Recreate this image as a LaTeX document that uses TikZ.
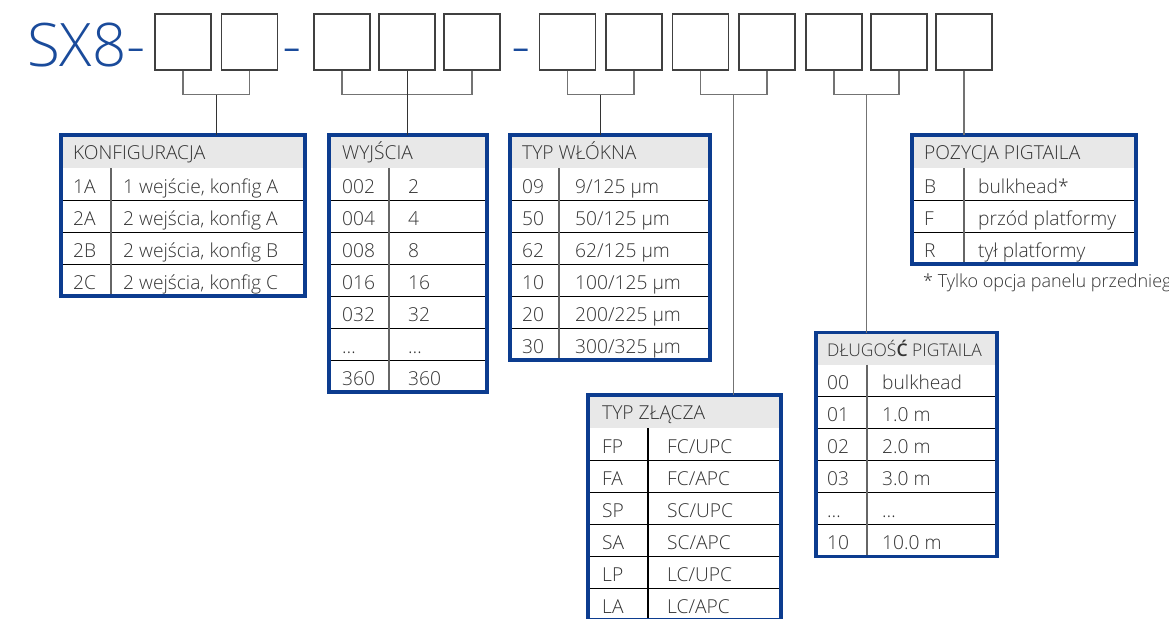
\documentclass[tikz,border=0pt]{standalone}
\usepackage{fontspec}
\IfFontExistsTF{Open Sans Light}{\setmainfont{Open Sans Light}}{\setmainfont{Open Sans}}
\usetikzlibrary{positioning, calc}
\definecolor{niebieski}{HTML}{1A4B9B}
\definecolor{ramka}{HTML}{0C3C8F}
\definecolor{szary}{HTML}{E8E8E8}
\definecolor{tekst}{HTML}{333333}
\newcommand{\rozm}{\fontsize{19.2}{21}\selectfont}

\begin{document}
\begin{tikzpicture}[x=1pt, y=-1pt,
  kod/.style={draw=black!75, line width=1.2pt, fill=white, minimum width=56pt,
              minimum height=56pt, inner sep=0pt},
  klamra/.style={draw=black!55, line width=1.2pt},
  pion/.style={draw=black!80, line width=1pt},
  tab/.style={draw=ramka, line width=3.3pt, inner sep=0pt, outer sep=0pt, anchor=north west},
  wpis/.style={anchor=base west, inner sep=0pt, text=tekst, font=\rozm},
  linia/.style={black, line width=0.9pt},
  kolumna/.style={black!60, line width=1.3pt},
  tytul/.style={anchor=base west, inner sep=0pt, text=niebieski, font=\fontsize{60}{60}\selectfont}]
  \useasboundingbox (0,0) rectangle (1169,618);
  \clip (0,0) rectangle (1169,618);
  % Kod produktu
  \node[tytul] (sx8) at (27,66.5) {SX8-};
  \node[tytul] (m1) at (282,66.5) {-};
  \node[tytul] (m2) at (511,66.5) {-};
  \foreach \x [count=\i] in {183,249.5,342,407,472,567.5,634,700.5,767,834,899,964}
    \node[kod] (b\i) at (\x,42) {};

  % KONFIGURACJA
  \fill[szary] (61,135) rectangle (305,168);
  \node[wpis] (konf-h) at (73,159.5) {KONFIGURACJA};
  \foreach \k/\v [count=\i] in {1A/{1 wejście, konfig A}, 2A/{2 wejścia, konfig A},
                                2B/{2 wejścia, konfig B}, 2C/{2 wejścia, konfig C}} {
    \node[wpis] (konf-k\i) at (73,{168+32*\i-7}) {\k};
    \node[wpis] (konf-v\i) at (123,{168+32*\i-7}) {\v};
  }
  \foreach \i in {1,...,3} \draw[linia] (61,{168+32*\i}) -- (305,{168+32*\i});
  \draw[kolumna] (111,168) -- (111,296);
  \node[tab, minimum width=244pt, minimum height=161pt] (konf) at (61,135) {};

  % WYJŚCIA
  \fill[szary] (329,135) rectangle (487,168);
  \node[wpis] (wyj-h) at (342,159.5) {WYJŚCIA};
  \foreach \k/\v [count=\i] in {002/2, 004/4, 008/8, 016/16, 032/32, \ldots/\ldots, 360/360} {
    \node[wpis] (wyj-k\i) at (342,{168+32*\i-7}) {\k};
    \node[wpis] (wyj-v\i) at (408,{168+32*\i-7}) {\v};
  }
  \foreach \i in {1,...,6} \draw[linia] (329,{168+32*\i}) -- (487,{168+32*\i});
  \draw[kolumna] (389,168) -- (389,392);
  \node[tab, minimum width=158pt, minimum height=257pt] (wyj) at (329,135) {};

  % TYP WŁÓKNA
  \fill[szary] (510,135) rectangle (710,168);
  \node[wpis] (wl-h) at (522,159.5) {TYP WŁÓKNA};
  \foreach \k [count=\i] in {09, 50, 62, 10, 20, 30}
    \node[wpis] (wl-k\i) at (522,{168+32*\i-7}) {\k};
  \foreach \v [count=\i] in {9/125 µm, 50/125 µm, 62/125 µm, 100/125 µm, 200/225 µm, 300/325 µm}
    \node[wpis] (wl-v\i) at (575,{168+32*\i-7}) {\v};
  \foreach \i in {1,...,5} \draw[linia] (510,{168+32*\i}) -- (710,{168+32*\i});
  \draw[kolumna] (559,168) -- (559,360);
  \node[tab, minimum width=200pt, minimum height=225pt] (wlokno) at (510,135) {};

  % TYP ZŁĄCZA
  \fill[szary] (588,395) rectangle (781,428);
  \node[wpis] (zl-h) at (602,419.5) {TYP ZŁĄCZA};
  \foreach \k [count=\i] in {FP, FA, SP, SA, LP, LA}
    \node[wpis] (zl-k\i) at (602,{428+32*\i-7}) {\k};
  \foreach \v [count=\i] in {FC/UPC, FC/APC, SC/UPC, SC/APC, LC/UPC, LC/APC}
    \node[wpis] (zl-v\i) at (667,{428+32*\i-7}) {\v};
  \foreach \i in {1,...,5} \draw[linia] (588,{428+32*\i}) -- (781,{428+32*\i});
  \draw[linia, line width=1.1pt] (648,428) -- (648,620);
  \node[tab, minimum width=193pt, minimum height=225pt] (zlacze) at (588,395) {};

  % DŁUGOŚĆ PIGTAILA
  \fill[szary] (816,332.5) rectangle (997,364.5);
  \node[wpis, font=\fontsize{17.5}{19}\selectfont] (dl-h) at (827,356) {DŁUGOŚ\textbf{Ć} PIGTAILA};
  \foreach \k/\v [count=\i] in {00/bulkhead, 01/1.0 m, 02/2.0 m, 03/3.0 m, \ldots/\ldots, 10/10.0 m} {
    \node[wpis] (dl-k\i) at (827,{364.5+32*\i-7}) {\k};
    \node[wpis] (dl-v\i) at (882,{364.5+32*\i-7}) {\v};
  }
  \foreach \i in {1,...,5} \draw[linia] (816,{364.5+32*\i}) -- (997,{364.5+32*\i});
  \draw[kolumna] (867,364.5) -- (867,556.5);
  \node[tab, minimum width=181pt, minimum height=224pt] (dlugosc) at (816,332.5) {};

  % POZYCJA PIGTAILA
  \fill[szary] (912,135) rectangle (1136,168);
  \node[wpis] (poz-h) at (924,159.5) {POZYCJA PIGTAILA};
  \foreach \k/\v [count=\i] in {B/bulkhead*, F/przód platformy, R/tył platformy} {
    \node[wpis] (poz-k\i) at (924,{168+32*\i-7}) {\k};
    \node[wpis] (poz-v\i) at (978,{168+32*\i-7}) {\v};
  }
  \foreach \i in {1,...,2} \draw[linia] (912,{168+32*\i}) -- (1136,{168+32*\i});
  \draw[kolumna] (964,168) -- (964,264);
  \node[tab, minimum width=224pt, minimum height=129pt] (pozycja) at (912,135) {};
  \node[wpis, font=\fontsize{18}{20}\selectfont] (przypis) at (923,287) {* Tylko opcja panelu przedniego};

  % Klamry i połączenia
  \draw[klamra] (b1.south) -- ++(0,24) -| (b2.south);
  \coordinate (k1) at ($(b1.south)!.5!(b2.south)+(0,24)$);
  \draw[pion] (k1) -- (k1 |- konf.north);
  \draw[klamra] (b3.south) -- ++(0,24) -| (b5.south);
  \draw[pion] (b4.south) -- (b4.south |- wyj.north);
  \draw[klamra] (b6.south) -- ++(0,24) -| (b7.south);
  \coordinate (k3) at ($(b6.south)!.5!(b7.south)+(0,24)$);
  \draw[pion] (k3) -- (k3 |- wlokno.north);
  \draw[klamra] (b8.south) -- ++(0,24) -| (b9.south);
  \coordinate (k4) at ($(b8.south)!.5!(b9.south)+(0,24)$);
  \draw[klamra] (k4) -- (k4 |- zlacze.north);
  \draw[klamra] (b10.south) -- ++(0,24) -| (b11.south);
  \coordinate (k5) at ($(b10.south)!.5!(b11.south)+(0,24)$);
  \draw[klamra] (k5) -- (k5 |- dlugosc.north);
  \draw[klamra] (b12.south) -- (b12.south |- pozycja.north);
\end{tikzpicture}
\end{document}
